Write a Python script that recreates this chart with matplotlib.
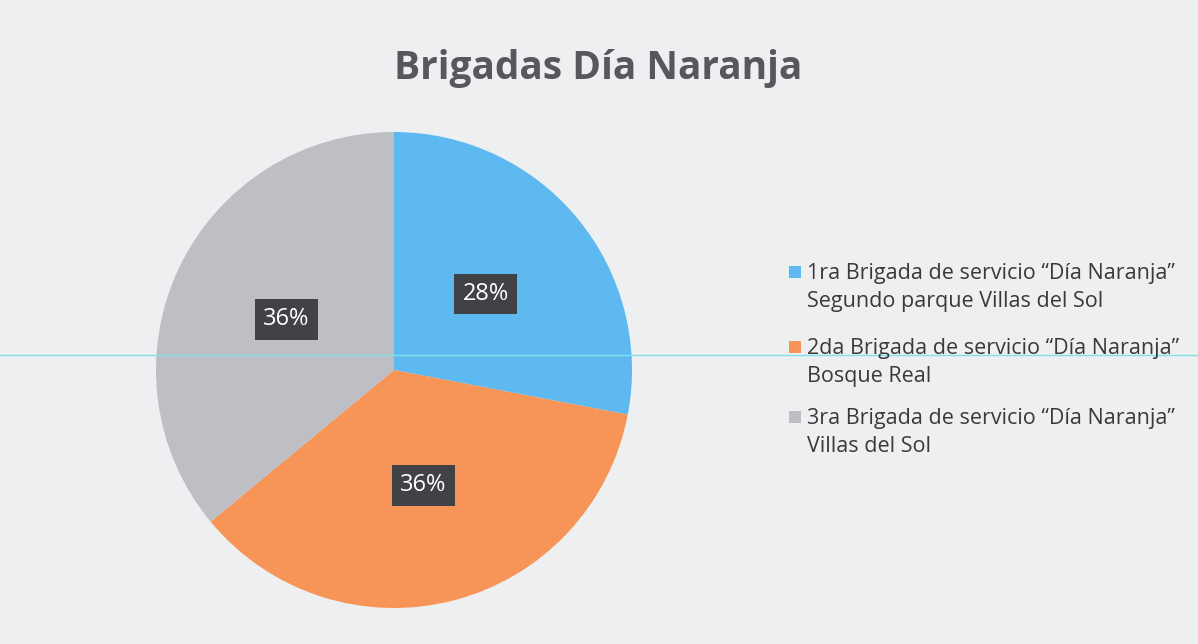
import matplotlib.pyplot as plt
from matplotlib.lines import Line2D
from matplotlib.patches import Rectangle

# data
title = 'Brigadas Día Naranja'
labels = ['1ra Brigada de servicio “Día Naranja”\nSegundo parque Villas del Sol',
          '2da Brigada de servicio “Día Naranja”\nBosque Real',
          '3ra Brigada de servicio “Día Naranja”\nVillas del Sol']
values = [28, 36, 36]
colors = ['#5DB9EF', '#F79457', '#BEBFC5']

plt.rcParams['font.family'] = ['Open Sans', 'DejaVu Sans']

W, H = 1198, 644
fig = plt.figure(figsize=(W / 100, H / 100), dpi=100)
fig.patch.set_facecolor('#EDEFF1')

# pie area: centre (394, 370) px, radius 238 px
cx, cy, r = 394, 370, 238
ax = fig.add_axes([(cx - r) / W, (H - cy - r) / H, 2 * r / W, 2 * r / H])
wedges, texts, autotexts = ax.pie(
    values, colors=colors, startangle=90, counterclock=False,
    autopct='%1.0f%%', pctdistance=0.5, radius=1,
    textprops=dict(color='white', fontsize=17))
for t in autotexts:
    t.set_bbox(dict(boxstyle='square,pad=0.35', facecolor='#404245',
                    edgecolor='none'))
ax.set_xlim(-1, 1)
ax.set_ylim(-1, 1)
ax.set_aspect('auto')
ax.axis('off')

fig.text(598 / W, 1 - 68 / H, title, ha='center', va='center',
         fontsize=28, fontweight='bold', color='#56585C')

# legend, drawn by hand so the square sits on the first line
ys = [272, 347, 417]
for lab, col, y in zip(labels, colors, ys):
    fig.patches.append(Rectangle((789 / W, 1 - (y + 6) / H), 12 / W, 12 / H,
                                 transform=fig.transFigure, facecolor=col,
                                 edgecolor='none'))
    fig.text(807 / W, 1 - (y - 9) / H, lab, ha='left', va='top',
             fontsize=15.5, color='#3A3A3A', linespacing=1.42)

# scanner streak
fig.add_artist(Line2D([0, 1], [1 - 355 / H, 1 - 355 / H],
                      transform=fig.transFigure, color='#7FE3EA', lw=1))

fig.savefig('out.png', dpi=100, facecolor=fig.get_facecolor())
